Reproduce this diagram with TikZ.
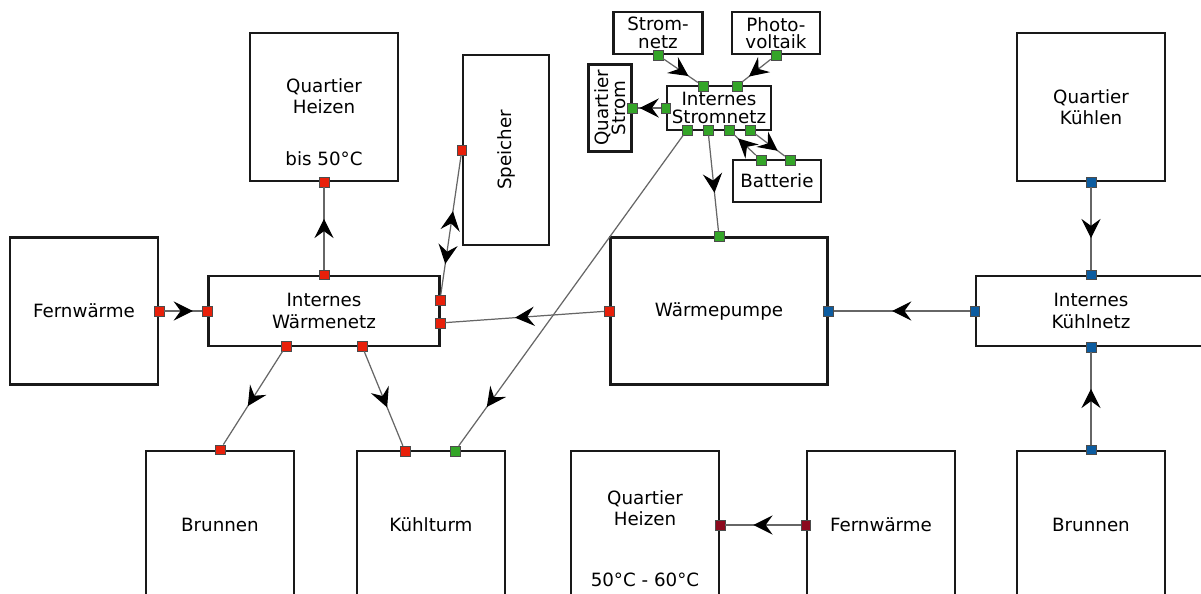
\documentclass[tikz,border=0pt]{standalone}
\usepackage{fontspec}
\setmainfont{DejaVu Sans}
\usetikzlibrary{arrows.meta,decorations.markings}

\definecolor{heatred}{RGB}{232,32,10}
\definecolor{powergreen}{RGB}{52,165,40}
\definecolor{coolblue}{RGB}{12,92,160}
\definecolor{darkheat}{RGB}{140,10,30}

\begin{document}
\begin{tikzpicture}[x=0.02cm, y=-0.02cm, font=\fontsize{10.4}{12}\selectfont,
        box/.style={draw=black!90, line width=1.3pt, inner sep=0pt, align=center},
        small/.style={box, font=\fontsize{10.4}{10}\selectfont},
        txt/.style={align=center, inner sep=0pt},
        port/.style={draw=black!70, line width=0.35pt, fill=#1, minimum size=5.6pt, inner sep=0pt},
        flowtip/.tip={Stealth[length=11pt, width=11pt, inset=4pt, black]},
        link/.style={draw=black!60, line width=0.7pt},
        flow/.style={link, postaction={decorate},
            decoration={markings, mark=at position #1 with {\arrow[xshift=5.5pt]{flowtip}}}},
        flow/.default=0.5]
        \def\px{0.02cm}

        \useasboundingbox (0,0) rectangle (1201,594);
        \clip (0,0) rectangle (1201,594);

        % heat side
        \node[box, minimum width=148*\px, minimum height=148*\px] (qh) at (324,107) {};
        \node[txt] (qh-t) at (324,96) {Quartier\\Heizen};
        \node[txt] (qh-b) at (324,159) {bis 50°C};
        \node[box, minimum width=86*\px, minimum height=190*\px] (sp) at (506,150) {};
        \node[txt, rotate=90] (sp-t) at (506,150) {Speicher};
        \node[box, minimum width=148*\px, minimum height=147*\px] (fw) at (84,311) {Fernwärme};
        \node[box, minimum width=231*\px, minimum height=70*\px] (wn) at (324,311) {Internes\\Wärmenetz};
        \node[box, minimum width=217*\px, minimum height=147*\px] (wp) at (719,311) {Wärmepumpe};
        \node[box, minimum width=148*\px, minimum height=148*\px] (br1) at (220,525) {Brunnen};
        \node[box, minimum width=148*\px, minimum height=148*\px] (kt) at (431,525) {Kühlturm};

        % cooling side
        \node[box, minimum width=148*\px, minimum height=148*\px] (qk) at (1091,107) {Quartier\\Kühlen};
        \node[box, minimum width=230*\px, minimum height=70*\px] (kn) at (1091,311) {Internes\\Kühlnetz};
        \node[box, minimum width=148*\px, minimum height=148*\px] (br2) at (1091,525) {Brunnen};

        % separate supply
        \node[box, minimum width=148*\px, minimum height=148*\px] (qh2) at (645,525) {};
        \node[txt] (qh2-t) at (645,508) {Quartier\\Heizen};
        \node[txt] (qh2-b) at (645,580) {50°C - 60°C};
        \node[box, minimum width=148*\px, minimum height=148*\px] (fw2) at (881,525) {Fernwärme};

        % power
        \node[small, minimum width=89*\px, minimum height=42*\px] (sn) at (658,33) {Strom-\\netz};
        \node[small, minimum width=88*\px, minimum height=42*\px] (pv) at (776,33) {Photo-\\voltaik};
        \node[small, minimum width=43*\px, minimum height=87*\px] (qs) at (610,108) {};
        \node[txt, rotate=90, font=\fontsize{10.4}{10}\selectfont] (qs-t) at (610,108) {Quartier\\Strom};
        \node[small, minimum width=104*\px, minimum height=44*\px] (is) at (719,108) {Internes\\Stromnetz};
        \node[small, minimum width=88*\px, minimum height=42*\px] (bat) at (777,181) {Batterie};

        % ports
        \node[port=heatred] (qh-s) at (qh.south) {};
        \node[port=heatred] (sp-w) at (sp.west) {};
        \node[port=heatred] (fw-e) at (fw.east) {};
        \node[port=heatred] (wn-w) at (wn.west) {};
        \node[port=heatred] (wn-n) at (wn.north) {};
        \node[port=heatred] (wn-e1) at (440,300) {};
        \node[port=heatred] (wn-e2) at (440,323) {};
        \node[port=heatred] (wn-s1) at (286,346) {};
        \node[port=heatred] (wn-s2) at (362,346) {};
        \node[port=heatred] (wp-w) at (wp.west) {};
        \node[port=powergreen] (wp-n) at (wp.north) {};
        \node[port=coolblue] (wp-e) at (wp.east) {};
        \node[port=heatred] (br1-n) at (br1.north) {};
        \node[port=heatred] (kt-n1) at (405,451) {};
        \node[port=powergreen] (kt-n2) at (455,451) {};
        \node[port=coolblue] (qk-s) at (qk.south) {};
        \node[port=coolblue] (kn-n) at (kn.north) {};
        \node[port=coolblue] (kn-w) at (kn.west) {};
        \node[port=coolblue] (kn-s) at (kn.south) {};
        \node[port=coolblue] (br2-n) at (br2.north) {};
        \node[port=darkheat] (qh2-e) at (qh2.east) {};
        \node[port=darkheat] (fw2-w) at (fw2.west) {};
        \node[port=powergreen] (sn-s) at (sn.south) {};
        \node[port=powergreen] (pv-s) at (pv.south) {};
        \node[port=powergreen] (qs-e) at (qs.east) {};
        \node[port=powergreen] (is-w) at (is.west) {};
        \node[port=powergreen] (is-n1) at (703,86) {};
        \node[port=powergreen] (is-n2) at (737,86) {};
        \node[port=powergreen] (is-s1) at (687,130) {};
        \node[port=powergreen] (is-s2) at (708,130) {};
        \node[port=powergreen] (is-s3) at (729,130) {};
        \node[port=powergreen] (is-s4) at (750,130) {};
        \node[port=powergreen] (bat-n1) at (761,160) {};
        \node[port=powergreen] (bat-n2) at (790,160) {};

        % connections
        \draw[flow] (sn-s) -- (is-n1);
        \draw[flow] (pv-s) -- (is-n2);
        \draw[flow] (is-w) -- (qs-e);
        \draw[flow=0.85] (is-s1) -- (kt-n2);
        \draw[flow] (is-s2) -- (wp-n);
        \draw[flow] (bat-n1) -- (is-s3);
        \draw[flow] (is-s4) -- (bat-n2);
        \draw[flow] (wn-n) -- (qh-s);
        \draw[link, postaction={decorate}, decoration={markings,
            mark=at position 0.53 with {\arrow[xshift=5.5pt]{flowtip}},
            mark=at position 0.29 with {\arrowreversed[xshift=-5.5pt]{flowtip}}}] (wn-e1) -- (sp-w);
        \draw[flow] (fw-e) -- (wn-w);
        \draw[flow] (wp-w) -- (wn-e2);
        \draw[flow] (wn-s1) -- (br1-n);
        \draw[flow] (wn-s2) -- (kt-n1);
        \draw[flow] (kn-w) -- (wp-e);
        \draw[flow] (qk-s) -- (kn-n);
        \draw[flow] (br2-n) -- (kn-s);
        \draw[flow] (fw2-w) -- (qh2-e);
    \end{tikzpicture}
\end{document}
